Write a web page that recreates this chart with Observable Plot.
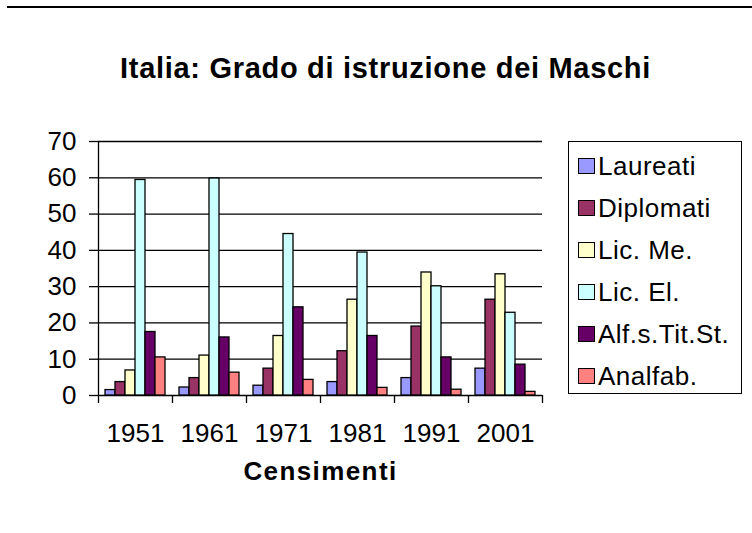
<!DOCTYPE html>
<html>
<head>
<meta charset="utf-8">
<script src="https://cdn.jsdelivr.net/npm/d3@7"></script>
<script src="https://cdn.jsdelivr.net/npm/@observablehq/plot@0.6"></script>
<style>
  html, body { margin: 0; padding: 0; background: #fff; }
  #wrap { position: relative; width: 752px; height: 533px; overflow: hidden; font-family: "Liberation Sans", Arial, sans-serif; }
  #topline { position: absolute; left: 7px; right: 0; top: 6px; height: 2px; background: #000; }
  #legend { position: absolute; left: 568px; top: 141px; width: 172px; height: 251px; border: 1.5px solid #000; background: #fff; }
  .row { position: absolute; left: 0; height: 30px; line-height: 30px; font-size: 26px; letter-spacing: 0.5px; color: #000; white-space: nowrap; }
  .sw { position: absolute; left: 9px; top: 7px; width: 15px; height: 14px; border: 1.4px solid #000; }
  .lab { position: absolute; left: 29px; top: 0; }
</style>
</head>
<body>
<div id="wrap">
  <div id="topline"></div>
  <div id="chart"></div>
  <div id="legend"></div>
</div>
<script>
const years = ["1951", "1961", "1971", "1981", "1991", "2001"];
const series = ["Laureati", "Diplomati", "Lic. Me.", "Lic. El.", "Alf.s.Tit.St.", "Analfab."];
const laureati  = [1.5, 2.2, 2.7, 3.7, 4.8, 7.4];
const diplomati = [3.7, 4.8, 7.4, 12.2, 19.0, 26.4];
const licMe     = [6.9, 11.0, 16.4, 26.4, 33.9, 33.4];
const licEl     = [59.4, 59.8, 44.5, 39.4, 30.1, 22.8];
const alfSTit   = [17.5, 16.0, 24.3, 16.4, 10.5, 8.5];
const analfab   = [10.5, 6.3, 4.3, 2.1, 1.6, 1.0];
const colors = ["#9999FF", "#993366", "#FFFFCC", "#CCFFFF", "#660066", "#FF8080"];
const yTicks = [0, 10, 20, 30, 40, 50, 60, 70];
const title = "Italia: Grado di istruzione dei Maschi";
const xTitle = "Censimenti";

const seriesValues = [laureati, diplomati, licMe, licEl, alfSTit, analfab];
const data = [];
series.forEach((s, si) => years.forEach((yr, yi) => data.push({year: yr, serie: s, value: seriesValues[si][yi]})));

const W = 752, H = 533;
const mL = 98, mR = 210, mT = 141, mB = 138;
const band = (W - mL - mR) / years.length;
const barW = 10;
const groupPad = (band - barW * series.length) / 2;

const barMarks = series.map((s, i) =>
  Plot.barY(data.filter(d => d.serie === s), {
    x: "year", y: "value", fill: "serie",
    stroke: "#000", strokeWidth: 1.3,
    insetLeft: groupPad + i * barW,
    insetRight: band - groupPad - (i + 1) * barW
  })
);

const chart = Plot.plot({
  width: W, height: H,
  marginLeft: mL, marginRight: mR, marginTop: mT, marginBottom: mB,
  style: {fontSize: "26px", fontFamily: "'Liberation Sans', Arial, sans-serif", color: "#000", background: "transparent", overflow: "visible"},
  x: {type: "band", domain: years, padding: 0, label: null},
  y: {domain: [0, d3.max(yTicks)], label: null},
  color: {domain: series, range: colors},
  marks: [
    Plot.gridY(yTicks, {stroke: "#000", strokeOpacity: 1, strokeWidth: 1.3}),
    ...barMarks,
    Plot.axisY(yTicks, {tickSize: 9, tickPadding: 13, stroke: "#000", strokeWidth: 1.3, label: null}),
    Plot.axisX({tickSize: 0, tickPadding: 28, label: null}),
    Plot.ruleX(years, {x: d => d, dx: -band / 2, y1: 0, y2: 0, insetBottom: -8, stroke: "#000", strokeWidth: 1.3}),
    Plot.ruleX(years.slice(-1), {x: d => d, dx: band / 2, y1: 0, y2: 0, insetBottom: -8, stroke: "#000", strokeWidth: 1.3}),
    Plot.ruleX(years.slice(0, 1), {x: d => d, dx: -band / 2, y1: d3.max(yTicks), y2: 0, stroke: "#000", strokeWidth: 1.3}),
    Plot.text([xTitle], {frameAnchor: "bottom", dy: 84, fontWeight: "bold", text: d => d}),
    Plot.text([title], {frameAnchor: "top", dy: -84, dx: 65, fontWeight: "bold", fontSize: 29, text: d => d})
  ]
});
chart.style.position = "absolute";
chart.style.left = "0px";
chart.style.top = "0px";
const textGroups = chart.querySelectorAll('g[aria-label="text"]');
if (textGroups.length >= 2) {
  textGroups[0].style.letterSpacing = "1.4px";
  textGroups[1].style.letterSpacing = "0.7px";
}
document.getElementById("chart").appendChild(chart);

const legend = document.getElementById("legend");
series.forEach((s, i) => {
  const row = document.createElement("div");
  row.className = "row";
  row.style.top = (9 + i * 42) + "px";
  const sw = document.createElement("div");
  sw.className = "sw";
  sw.style.background = colors[i];
  const lab = document.createElement("span");
  lab.className = "lab";
  lab.textContent = s;
  row.appendChild(sw);
  row.appendChild(lab);
  legend.appendChild(row);
});
</script>
</body>
</html>
